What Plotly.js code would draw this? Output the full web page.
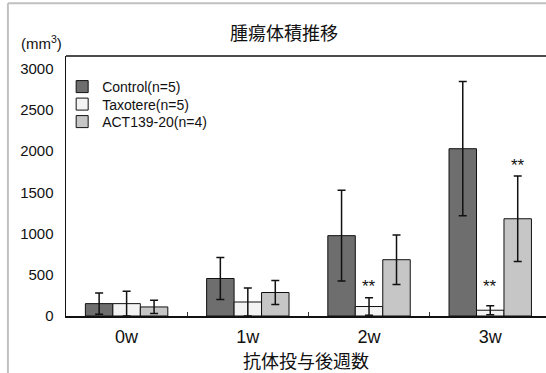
<!DOCTYPE html>
<html>
<head>
<meta charset="utf-8">
<script src="https://cdn.plot.ly/plotly-3.0.1.min.js"></script>
<style>html,body{margin:0;padding:0;background:#fff;}#chart{width:546px;height:373px;}</style>
</head>
<body>
<div id="chart"></div>
<script>
// ---- data ----
const weeks = ["0w", "1w", "2w", "3w"];
const seriesNames = ["Control(n=5)", "Taxotere(n=5)", "ACT139-20(n=4)"];
const controlMean = [150, 455, 975, 2030];
const controlErr  = [130, 255, 550, 815];
const taxotereMean = [150, 170, 115, 70];
const taxotereErr  = [150, 170, 105, 55];
const actMean = [110, 285, 683, 1180];
const actErr  = [80, 145, 300, 520];
// significance marks: [category index, series index, y position]
const starCat = [2, 3, 3];
const starSeries = [1, 1, 2];
const starY = [360, 355, 1830];
const starText = "**";

const colors = ["#6e6e6e", "#f3f3f3", "#c6c6c6"];
const means = [controlMean, taxotereMean, actMean];
const errs = [controlErr, taxotereErr, actErr];

const FONT = "Liberation Sans, Arial, 'Noto Sans CJK JP', sans-serif";
const CJK = "'Noto Sans CJK JP', sans-serif";
const bargap = 0.32;
const barW = (1 - bargap) / 3;

const traces = seriesNames.map((name, i) => ({
  type: "bar",
  name: name,
  x: weeks,
  y: means[i],
  marker: {color: colors[i], line: {color: "#111", width: 1}},
  error_y: {type: "data", array: errs[i], visible: true, color: "#111", thickness: 1.5, width: 4},
  legend: i === 0 ? "legend" : ("legend" + (i + 1)),
  hoverinfo: "skip"
}));

const annotations = starCat.map((c, k) => ({
  x: c + (starSeries[k] - 1) * barW,
  y: starY[k],
  xref: "x", yref: "y",
  text: starText,
  showarrow: false,
  font: {family: FONT, size: 17, color: "#111"}
}));
annotations.push({
  xref: "paper", yref: "paper", x: -0.052, xanchor: "center", y: 1.0, yanchor: "middle", yshift: 14,
  text: "(mm<sup>3</sup>)", showarrow: false,
  font: {family: FONT, size: 15, color: "#111"}
});

function legendBox(yPix) {
  return {
    x: -0.008, xanchor: "left",
    y: 1 - (yPix - 56) / 260, yanchor: "middle",
    bgcolor: "rgba(0,0,0,0)", borderwidth: 0,
    font: {family: FONT, size: 14, color: "#111"},
    itemwidth: 30, tracegroupgap: 0
  };
}

const layout = {
  width: 546, height: 373,
  margin: {l: 66, r: 0, t: 56, b: 57},
  paper_bgcolor: "#fff", plot_bgcolor: "#fff",
  font: {family: FONT, color: "#111"},
  title: {text: "腫瘍体積推移", x: 0.52, xanchor: "center", y: 0.91, yanchor: "middle",
          font: {family: CJK, size: 18, color: "#111"}},
  barmode: "group",
  bargap: bargap,
  bargroupgap: 0,
  showlegend: true,
  legend: legendBox(87),
  legend2: legendBox(104.5),
  legend3: legendBox(122),
  xaxis: {
    type: "category",
    range: [-0.5, 3.46],
    showline: true, linecolor: "#111", linewidth: 1.5,
    ticks: "inside", tickson: "boundaries", ticklen: 4, tickcolor: "#333", tickwidth: 1,
    showgrid: false, zeroline: false,
    ticklabelstandoff: 4,
    tickfont: {family: FONT, size: 18, color: "#111"},
    title: {text: "抗体投与後週数", font: {family: CJK, size: 18, color: "#111"}, standoff: 16},
    fixedrange: true
  },
  yaxis: {
    range: [0, 3155],
    tickvals: [0, 500, 1000, 1500, 2000, 2500, 3000],
    showline: true, linecolor: "#111", linewidth: 1.5,
    ticks: "", showgrid: false, zeroline: false,
    ticklabelstandoff: 8,
    tickfont: {family: FONT, size: 15, color: "#111"},
    fixedrange: true
  },
  annotations: annotations,
  shapes: [
    {type: "line", xref: "paper", yref: "paper", x0: 0, x1: 1, y0: 1, y1: 1,
     line: {color: "#111", width: 1.5}},
    {type: "line", xref: "paper", yref: "paper", x0: -0.121, x1: -0.121, y0: -0.3, y1: 1.203,
     line: {color: "#c0c0c0", width: 2}},
    {type: "line", xref: "paper", yref: "paper", x0: -0.121, x1: 1.0, y0: 1.203, y1: 1.203,
     line: {color: "#c0c0c0", width: 2}}
  ]
};

Plotly.newPlot("chart", traces, layout, {displayModeBar: false, staticPlot: true});
</script>
</body>
</html>
